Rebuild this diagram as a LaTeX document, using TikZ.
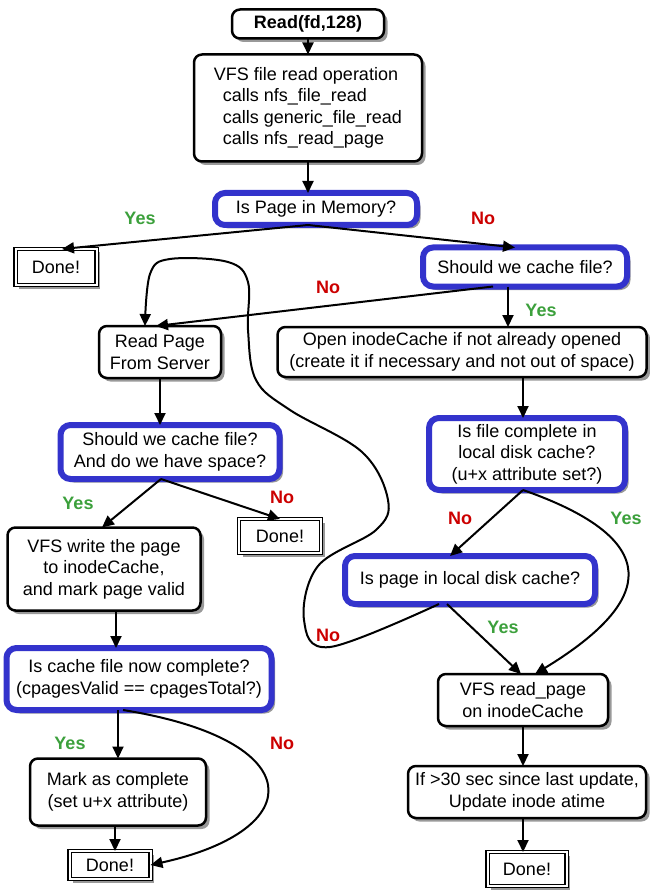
\documentclass[tikz,border=0pt]{standalone}
\usepackage{fontspec}
\setmainfont{Liberation Sans}
\usetikzlibrary{arrows.meta,shadows}
\definecolor{qblue}{RGB}{51,51,204}
\definecolor{ygreen}{RGB}{60,160,60}
\definecolor{nred}{RGB}{204,0,0}

\begin{document}
\begin{tikzpicture}[x=1pt,y=-1pt,
  every node/.style={font=\fontsize{18}{21.5}\selectfont, outer sep=0pt, inner sep=3pt},
  procbox/.style={draw, line width=2.5pt, rounded corners=8pt, fill=white, align=center,
    drop shadow={shadow xshift=3.5pt, shadow yshift=-3.5pt, fill=black!40, opacity=1}},
  askbox/.style={draw=qblue, line width=6pt, rounded corners=10pt, fill=white, align=center,
    drop shadow={shadow xshift=3.5pt, shadow yshift=-3.5pt, fill=black!40, opacity=1}},
  endbox/.style={draw, double, double distance=2pt, line width=1.2pt, fill=white,
    drop shadow={shadow xshift=3.5pt, shadow yshift=-3.5pt, fill=black!40, opacity=1}},
  yeslabel/.style={text=ygreen, font=\fontsize{18}{21.5}\selectfont\bfseries},
  nolabel/.style={text=nred, font=\fontsize{18}{21.5}\selectfont\bfseries},
  flow/.style={line width=2pt, -{Triangle[length=12pt,width=11pt]}}]
\useasboundingbox (0,0) rectangle (649,890);

\node[procbox, minimum width=152pt, minimum height=29pt, font=\fontsize{18}{21.5}\selectfont\bfseries] (read) at (308,24) {Read(fd,128)};
\node[procbox, minimum width=228pt, minimum height=107pt, align=left] (vfs) at (308,108)
  {VFS file read operation\\ \hspace*{9pt}calls nfs\_file\_read\\ \hspace*{9pt}calls generic\_file\_read\\ \hspace*{9pt}calls nfs\_read\_page};
\node[askbox, minimum width=202pt, minimum height=32pt] (mem) at (316,209) {Is Page in Memory?};
\node[endbox, minimum width=81pt, minimum height=36pt] (done1) at (56,267) {Done!};
\node[askbox, minimum width=204pt, minimum height=39pt] (cache1) at (525,267) {Should we cache file?};
\node[procbox, minimum width=122pt, minimum height=52pt] (readpage) at (160,352) {Read Page\\From Server};
\node[procbox, minimum width=369pt, minimum height=50pt] (open) at (462,352)
  {Open inodeCache if not already opened\\(create it if necessary and not out of space)};
\node[askbox, minimum width=219pt, minimum height=54pt] (cache2) at (170,452) {Should we cache file?\\And do we have space?};
\node[askbox, minimum width=196pt, minimum height=72pt] (filecomp) at (527,454) {Is file complete in\\local disk cache?\\(u+x attribute set?)};
\node[endbox, minimum width=82pt, minimum height=34pt] (done2) at (280,536) {Done!};
\node[procbox, minimum width=193pt, minimum height=83pt] (vfswrite) at (104,569) {VFS write the page\\to inodeCache,\\and mark page valid};
\node[askbox, minimum width=250pt, minimum height=48pt] (pagelocal) at (470,580) {Is page in local disk cache?};
\node[askbox, minimum width=265pt, minimum height=62pt] (cachecomp) at (139,679) {Is cache file now complete?\\(cpagesValid == cpagesTotal?)};
\node[procbox, minimum width=170pt, minimum height=52pt] (vfsread) at (523,700) {VFS read\_page\\on inodeCache};
\node[procbox, minimum width=176pt, minimum height=67pt] (mark) at (118,792) {Mark as complete\\(set u+x attribute)};
\node[procbox, minimum width=238pt, minimum height=52pt] (update) at (527,792) {If >30 sec since last update,\\Update inode atime};
\node[endbox, minimum width=81pt, minimum height=28pt] (done3) at (110,865) {Done!};
\node[endbox, minimum width=79pt, minimum height=34pt] (done4) at (527,869) {Done!};

\node[yeslabel] (y1) at (140,218) {Yes};
\node[nolabel] (n1) at (483,218) {No};
\node[nolabel] (n2) at (328,287) {No};
\node[yeslabel] (y2) at (541,310) {Yes};
\node[yeslabel] (y3) at (78,503) {Yes};
\node[nolabel] (n3) at (282,497) {No};
\node[nolabel] (n4) at (460,518) {No};
\node[yeslabel] (y4) at (626,518) {Yes};
\node[yeslabel] (y5) at (503,627) {Yes};
\node[nolabel] (n5) at (328,635) {No};
\node[yeslabel] (y6) at (70,743) {Yes};
\node[nolabel] (n6) at (282,743) {No};

\draw[flow] (read) -- (vfs);
\draw[flow] (vfs.south) -- (vfs.south |- mem.north);
\draw[flow] ([xshift=-8pt]mem.south) -- ([xshift=6pt]done1.north);
\draw[flow] ([xshift=-8pt]mem.south) -- ([xshift=-10pt]cache1.north);
\draw[flow] ([xshift=-32pt]cache1.south) -- ([xshift=-4pt]readpage.north);
\draw[flow] ([xshift=-17pt]cache1.south) -- ([xshift=-17pt]cache1.south |- open.north);
\draw[flow] ([xshift=-4pt]filecomp.north |- open.south) -- ([xshift=-4pt]filecomp.north);
\draw[flow] (readpage.south) -- (readpage.south |- cache2.north);
\draw[flow] ([xshift=-9pt]cache2.south) -- ([xshift=-2pt]vfswrite.north);
\draw[flow] ([xshift=-9pt]cache2.south) -- (done2.north);
\draw[flow] ([xshift=-4pt]filecomp.south) -- ([xshift=-20pt]pagelocal.north);
\draw[flow] ([xshift=-4pt]filecomp.south) .. controls (680,545) and (640,610) .. ([xshift=12pt]vfsread.north);
\draw[flow] ([xshift=-23pt]pagelocal.south) -- ([xshift=-2pt]vfsread.north);
\draw[flow] plot[smooth, tension=.6] coordinates {([xshift=-31pt]pagelocal.south) (330,647) (304,620) (318,566) (376,530) (388,500) (362,452) (290,410) (256,380) (248,330) (248,282) (228,262) (170,259) (150,274) ([xshift=-15pt]readpage.north)};
\draw[flow] ([xshift=12pt]vfswrite.south) -- ([xshift=12pt]vfswrite.south |- cachecomp.north);
\draw[flow] (mark.north |- cachecomp.south) -- (mark.north);
\draw[flow] ([xshift=-16pt]cachecomp.south) .. controls (310,740) and (310,830) .. (done3.east);
\draw[flow] ([xshift=5pt]done3.north |- mark.south) -- ([xshift=5pt]done3.north);
\draw[flow] (vfsread.south) -- (vfsread.south |- update.north);
\draw[flow] (vfsread.south |- update.south) -- (vfsread.south |- done4.north);
\end{tikzpicture}
\end{document}
